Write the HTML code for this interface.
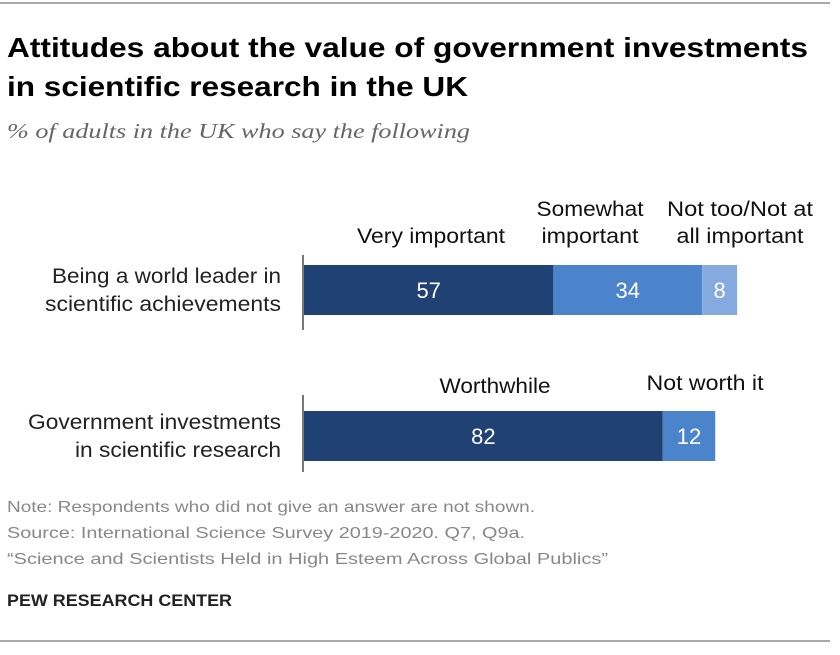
<!DOCTYPE html>
<html><head><meta charset="utf-8"><style>
body{margin:0;background:#fff;width:840px;height:650px;overflow:hidden;font-family:"Liberation Sans",sans-serif;}
</style></head><body>
<svg width="840" height="650" xmlns="http://www.w3.org/2000/svg" font-family="Liberation Sans, sans-serif">
<line x1="0" y1="3" x2="830" y2="3" stroke="#555" stroke-width="1"/>
<text x="7" y="57" font-size="28" font-weight="bold" fill="#000" textLength="801" lengthAdjust="spacingAndGlyphs">Attitudes about the value of government investments</text>
<text x="7" y="96" font-size="28" font-weight="bold" fill="#000" textLength="461" lengthAdjust="spacingAndGlyphs">in scientific research in the UK</text>
<text x="7" y="138" font-size="21" font-style="italic" font-family="Liberation Serif, serif" fill="#666" textLength="463" lengthAdjust="spacingAndGlyphs">% of adults in the UK who say the following</text>
<g id="bars"></g>
<text x="7" y="512" font-size="16" fill="#888" textLength="528" lengthAdjust="spacingAndGlyphs">Note: Respondents who did not give an answer are not shown.</text>
<text x="7" y="538" font-size="16" fill="#888" textLength="518" lengthAdjust="spacingAndGlyphs">Source: International Science Survey 2019-2020. Q7, Q9a.</text>
<text x="7" y="564" font-size="16" fill="#888" textLength="601" lengthAdjust="spacingAndGlyphs">“Science and Scientists Held in High Esteem Across Global Publics”</text>
<text x="7" y="606" font-size="17" font-weight="bold" fill="#222" textLength="225" lengthAdjust="spacingAndGlyphs">PEW RESEARCH CENTER</text>
<line x1="0" y1="641" x2="830" y2="641" stroke="#555" stroke-width="1"/>
</svg>
<script>
const rowLabels1 = ["Being a world leader in", "scientific achievements"];
const rowLabels2 = ["Government investments", "in scientific research"];
const row1Values = [57, 34, 8];
const row2Values = [82, 12];
const row1Cats = ["Very important", "Somewhat important", "Not too/Not at all important"];
const row2Cats = ["Worthwhile", "Not worth it"];
const colors = ["#1f4173", "#4c84cc", "#84aadf"];
const NS = "http://www.w3.org/2000/svg";
const g = document.getElementById("bars");
const x0 = 304, k = 4.375;
const xs = v => x0 + v * k;
function mk(tag, attrs){const e=document.createElementNS(NS,tag);for(const a in attrs)e.setAttribute(a,attrs[a]);g.appendChild(e);return e;}
function txt(x,y,s,attrs,len){const a=Object.assign({x:x,y:y,"font-size":21},attrs);if(len){a.textLength=len;a.lengthAdjust="spacingAndGlyphs";}const e=mk("text",a);e.textContent=s;return e;}
function row(vals, labels, labelLens, y, h, axisTop, axisBot, headers){
  const ax = mk("line",{x1:303,x2:303,y1:axisTop,y2:axisBot,stroke:"#777","stroke-width":2});
  
  
  labels.forEach((l,i)=>{const t=txt(281,y+18+i*28,l,{"text-anchor":"end",fill:"#222"},labelLens[i]);
    
    });
  let acc=0;
  vals.forEach((v,i)=>{
    const r=mk("rect",{x:xs(acc),y:y,width:v*k,height:h,fill:colors[i]});
    
    
    const cx=xs(acc+v/2);
    const t=txt(cx,y+h/2+8,String(v),{"text-anchor":"middle",fill:"#fff","font-size":22});
    
    
    const hl=headers[i];
    hl.lines.forEach((s,j)=>{const c=txt(hl.x,hl.y+j*27,s,{"text-anchor":"middle",fill:"#111"},hl.lens[j]);
      
      });
    acc+=v;
  });
}
row(row1Values,rowLabels1,[229,236],265,50,255,330,[
  {lines:["Very important"],lens:[148],y:243,x:431},
  {lines:["Somewhat","important"],lens:[107,97],y:216,x:590},
  {lines:["Not too/Not at","all important"],lens:[146,127],y:216,x:740}]);
row(row2Values,rowLabels2,[253,206],411,50,395,472,[
  {lines:["Worthwhile"],lens:[111],y:393,x:495},
  {lines:["Not worth it"],lens:[117],y:390,x:705}]);
</script>
</body></html>
